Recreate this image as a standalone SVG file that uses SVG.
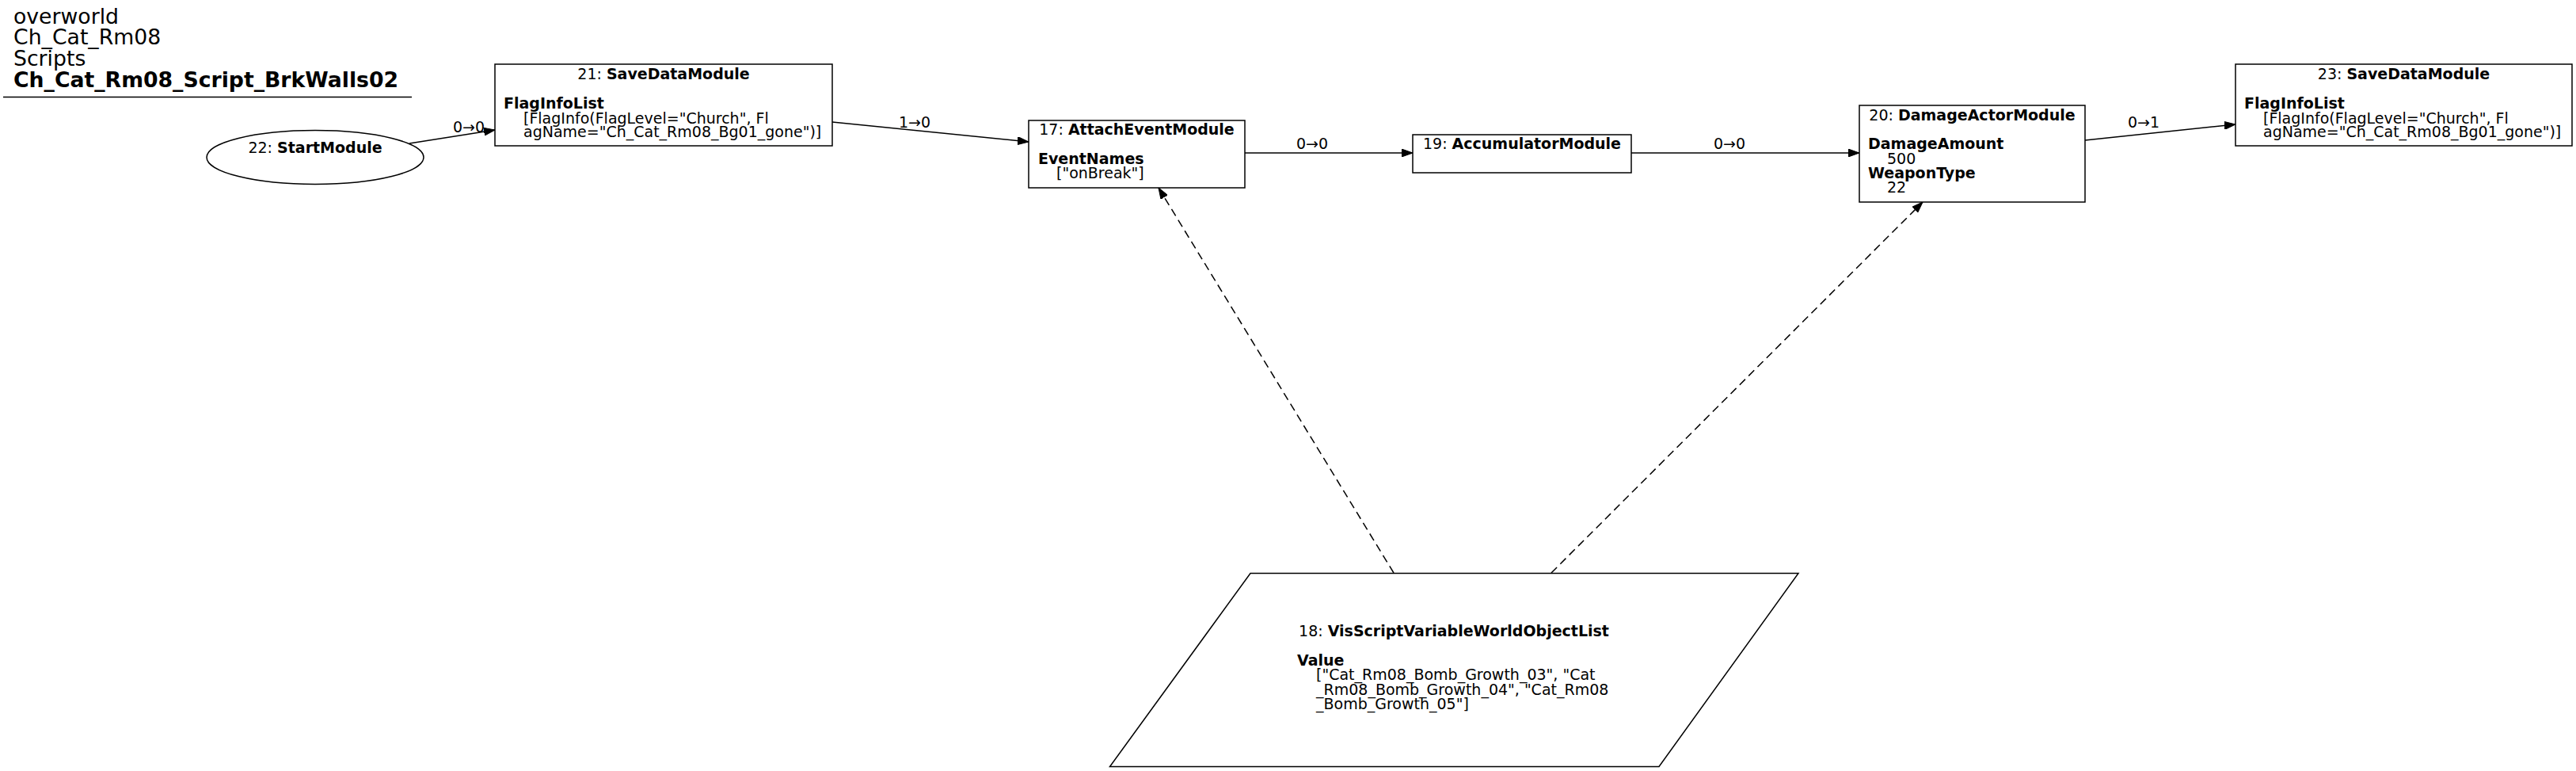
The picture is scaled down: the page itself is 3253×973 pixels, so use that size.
<svg xmlns="http://www.w3.org/2000/svg" width="3253" height="973" viewBox="0 0 3253 973">
<style>
text{font-family:"DejaVu Sans","Liberation Sans",sans-serif;fill:#000}
.t{font-size:19px}
.h{font-size:26.7px}
.b{font-weight:bold}
.n{fill:#fff;stroke:#000;stroke-width:1.5}
.e{fill:none;stroke:#000;stroke-width:1.5}
.d{stroke-dasharray:10,6}
.m{text-anchor:middle}
</style>
<defs>
<marker id="ah" viewBox="0 0 14 10" refX="14" refY="5" markerWidth="14" markerHeight="10" markerUnits="userSpaceOnUse" orient="auto">
<path d="M0,0 L14,5 L0,10 z" fill="#000" stroke="#000" stroke-width="1"/>
</marker>
</defs>
<rect x="0" y="0" width="3253" height="973" fill="#fff"/>
<g id="title">
<text class="h" x="17" y="29.5">overworld</text>
<text class="h" x="17" y="56.2">Ch_Cat_Rm08</text>
<text class="h" x="17" y="82.9">Scripts</text>
<text class="h b" x="17" y="109.6">Ch_Cat_Rm08_Script_BrkWalls02</text>
<line x1="4" y1="122.5" x2="520" y2="122.5" stroke="#000" stroke-width="1.5"/>
</g>
<g id="connectors">
<path class="e" d="M517,181 L625,164" marker-end="url(#ah)"/>
<text class="t" x="572" y="167">0→0</text>
<path class="e" d="M1051,154 L1299,179" marker-end="url(#ah)"/>
<text class="t" x="1135" y="161">1→0</text>
<path class="e" d="M1572,193 L1784,193" marker-end="url(#ah)"/>
<text class="t" x="1637" y="188">0→0</text>
<path class="e" d="M2060,193 L2348,193" marker-end="url(#ah)"/>
<text class="t" x="2164" y="188">0→0</text>
<path class="e" d="M2633,177 L2823,157" marker-end="url(#ah)"/>
<text class="t" x="2687" y="161">0→1</text>
<path class="e d" d="M1760,723 L1463,237" marker-end="url(#ah)"/>
<path class="e d" d="M1959,723 L2428,255" marker-end="url(#ah)"/>
</g>
<g id="node22">
<ellipse class="n" cx="398" cy="198.5" rx="137" ry="34"/>
<text class="t m" x="398" y="193">22: <tspan class="b">StartModule</tspan></text>
</g>
<g id="node21">
<rect class="n" x="625" y="81" width="426" height="103"/>
<text class="t m" x="838" y="100">21: <tspan class="b">SaveDataModule</tspan></text>
<text class="t b" x="636" y="137">FlagInfoList</text>
<text class="t" x="661" y="155.7">[FlagInfo(FlagLevel="Church", Fl</text>
<text class="t" x="661" y="173">agName="Ch_Cat_Rm08_Bg01_gone")]</text>
</g>
<g id="node17">
<rect class="n" x="1299" y="152" width="273" height="85"/>
<text class="t m" x="1435.5" y="170">17: <tspan class="b">AttachEventModule</tspan></text>
<text class="t b" x="1311" y="207">EventNames</text>
<text class="t" x="1334" y="225">["onBreak"]</text>
</g>
<g id="node19">
<rect class="n" x="1784" y="170" width="276" height="48"/>
<text class="t m" x="1922" y="188">19: <tspan class="b">AccumulatorModule</tspan></text>
</g>
<g id="node20">
<rect class="n" x="2348" y="133" width="285" height="122"/>
<text class="t m" x="2490.5" y="151.7">20: <tspan class="b">DamageActorModule</tspan></text>
<text class="t b" x="2359" y="188">DamageAmount</text>
<text class="t" x="2383" y="207">500</text>
<text class="t b" x="2359" y="225">WeaponType</text>
<text class="t" x="2383" y="243">22</text>
</g>
<g id="node23">
<rect class="n" x="2823" y="81" width="425" height="103"/>
<text class="t m" x="3035.5" y="100">23: <tspan class="b">SaveDataModule</tspan></text>
<text class="t b" x="2834" y="137">FlagInfoList</text>
<text class="t" x="2858" y="155.7">[FlagInfo(FlagLevel="Church", Fl</text>
<text class="t" x="2858" y="173">agName="Ch_Cat_Rm08_Bg01_gone")]</text>
</g>
<g id="node18">
<polygon class="n" points="1579,723.5 2271,723.5 2095,967.5 1401.5,967.5"/>
<text class="t m" x="1836" y="803">18: <tspan class="b">VisScriptVariableWorldObjectList</tspan></text>
<text class="t b" x="1638" y="840">Value</text>
<text class="t" x="1662" y="858">["Cat_Rm08_Bomb_Growth_03", "Cat</text>
<text class="t" x="1662" y="876.7">_Rm08_Bomb_Growth_04", "Cat_Rm08</text>
<text class="t" x="1662" y="895">_Bomb_Growth_05"]</text>
</g>
</svg>
